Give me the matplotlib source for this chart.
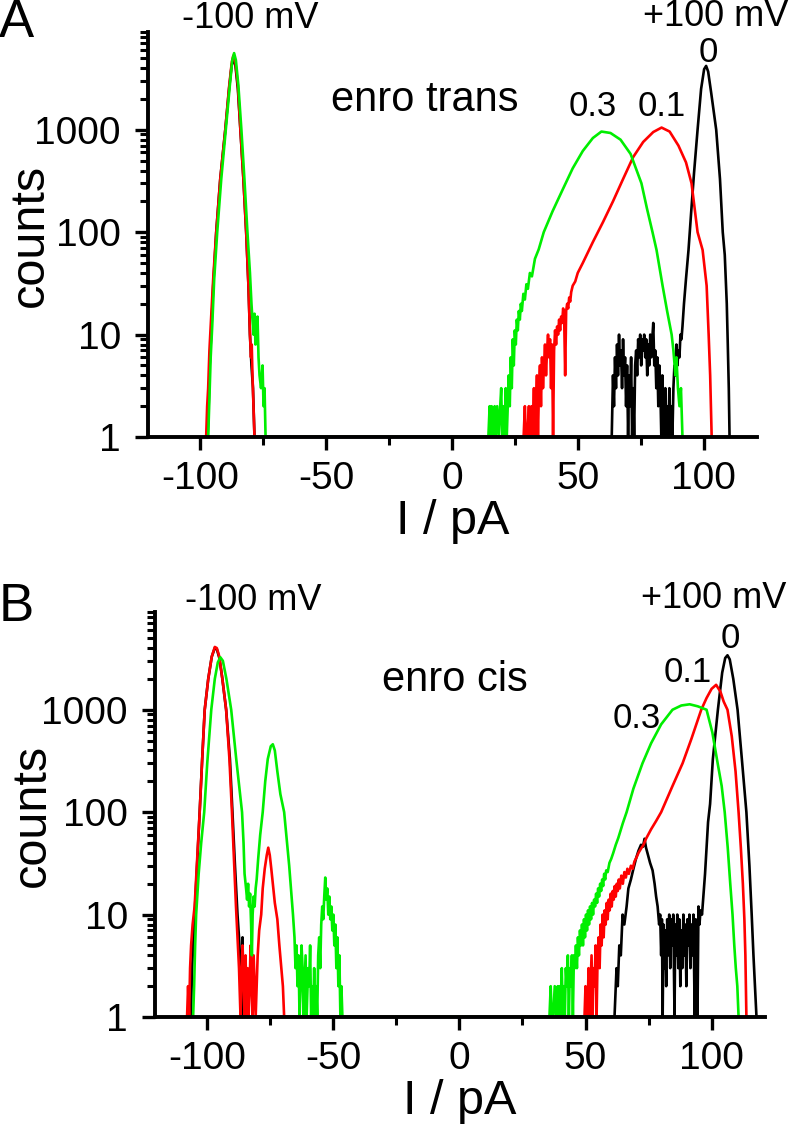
import numpy as np
import matplotlib
matplotlib.use("Agg")
import matplotlib.pyplot as plt
from matplotlib.ticker import MultipleLocator, LogLocator, NullFormatter

plt.rcParams['font.family'] = ['Liberation Sans', 'DejaVu Sans']

# ---- data: (current I in pA, counts) ----
# panel A, enro trans
trans_0 = [(-97.0, 1), (-96.6, 2), (-96.2, 5), (-95.6, 10), (-94.8, 30), (-93.6, 100), (-92.0, 330),
           (-90.0, 1000), (-88.5, 2500), (-87.5, 4200), (-86.8, 4900), (-86.0, 4300), (-85.0, 2500),
           (-84.0, 1000), (-82.8, 330), (-81.7, 100), (-80.8, 30), (-80.2, 10), (-79.6, 5), (-79.0, 3),
           (-78.4, 1),
           (63.5, 1), (64.0, 4), (64.4, 2), (64.8, 6), (65.2, 3), (65.6, 8), (66.0, 4), (66.4, 10), (66.8, 5),
           (67.2, 7), (67.6, 3), (68.0, 9), (68.4, 4), (68.8, 6), (69.2, 2), (69.6, 5), (70.0, 1), (70.4, 4),
           (70.8, 2), (71.2, 6), (71.6, 1), (72.0, 3), (72.4, 1), (72.8, 5), (73.2, 7), (73.6, 4), (74.0, 9),
           (74.4, 6), (74.8, 10), (75.2, 5), (75.6, 9), (76.0, 7), (76.4, 10), (76.8, 6), (77.2, 9), (77.6, 4),
           (78.0, 8), (78.4, 5), (78.8, 10), (79.2, 6), (79.6, 9), (80.0, 13), (80.4, 5), (80.8, 7), (81.2, 3),
           (81.6, 6), (82.0, 2), (82.4, 5), (82.8, 3), (83.2, 1), (83.6, 4), (84.0, 2), (84.4, 1), (84.8, 3),
           (85.2, 1), (85.6, 2), (86.0, 1), (86.4, 3), (86.8, 1), (87.2, 2), (87.6, 1), (88.0, 3), (88.4, 5),
           (88.8, 4), (89.2, 8), (89.6, 5), (90.0, 7), (90.4, 6), (90.8, 10), (91.2, 9), (91.6, 12), (92.2, 20),
           (93.0, 35), (94.0, 67), (95.0, 150), (96.2, 380), (97.6, 1000), (99.0, 2500), (100.2, 3900),
           (101.0, 4200), (101.8, 3700), (103.0, 2300), (105.0, 1000), (106.5, 330), (107.6, 100), (108.4, 60),
           (109.2, 20), (109.6, 8), (110.0, 3), (110.3, 1)]

trans_01 = [(-97.6, 1), (-97.2, 2), (-96.8, 3), (-96.3, 7), (-95.6, 15), (-94.8, 35), (-93.6, 100),
            (-92.0, 330), (-90.0, 1000), (-88.5, 2600), (-87.4, 4600), (-86.8, 5300), (-86.0, 4600),
            (-85.0, 2700), (-84.0, 1000), (-82.8, 330), (-81.7, 100), (-80.8, 30), (-80.2, 10), (-79.8, 6),
            (-79.5, 8), (-79.2, 4), (-78.8, 2), (-78.4, 1),
            (28.5, 1), (29.0, 2), (29.4, 1), (30.0, 1), (30.6, 2), (31.0, 1), (31.6, 2), (32.0, 1), (32.6, 3),
            (33.0, 1), (33.4, 2), (33.8, 4), (34.2, 1), (34.6, 3), (35.0, 5), (35.4, 2), (35.8, 6), (36.2, 3),
            (36.6, 5), (37.0, 8), (37.4, 4), (37.8, 7), (38.2, 10), (38.6, 6), (39.0, 9), (39.4, 3), (39.8, 8),
            (40.2, 1), (40.6, 7), (41.0, 11), (41.4, 8), (41.8, 12), (42.2, 10), (42.6, 14), (43.0, 11),
            (43.4, 15), (43.8, 13), (44.2, 18), (44.6, 15), (45.0, 4), (45.4, 17), (45.8, 20), (46.2, 18),
            (46.6, 23), (47.0, 21), (47.4, 26), (48.0, 30), (49.0, 33), (50.0, 40), (52.0, 50), (56.0, 80),
            (60.0, 125), (64.0, 200), (68.0, 330), (72.0, 540), (76.0, 760), (80.0, 950), (83.3, 1050),
            (86.5, 960), (90.0, 700), (93.0, 480), (95.2, 300), (97.6, 100), (99.6, 67), (101.2, 30),
            (102.0, 10), (102.6, 4), (103.2, 1)]

trans_03 = [(-96.8, 1), (-96.4, 2), (-95.8, 6), (-95.2, 12), (-94.4, 35), (-93.2, 100), (-91.6, 330),
            (-89.8, 1000), (-88.2, 2700), (-87.2, 4800), (-86.5, 5600), (-85.8, 4800), (-84.8, 2700),
            (-83.6, 1000), (-82.4, 330), (-81.2, 100), (-80.2, 40), (-79.6, 20), (-79.2, 14), (-78.8, 10),
            (-78.4, 16), (-78.0, 8), (-77.6, 12), (-77.2, 15), (-76.8, 6), (-76.4, 4), (-75.8, 3), (-75.2, 5),
            (-74.8, 2), (-74.4, 3), (-74.0, 1),
            (14.5, 1), (15.0, 2), (15.4, 1), (15.8, 2), (16.4, 1), (17.0, 2), (17.4, 1), (18.0, 2), (18.6, 1),
            (19.2, 2), (19.6, 3), (20.0, 1), (20.6, 2), (21.0, 1), (21.4, 3), (21.8, 1), (22.2, 2), (22.6, 4),
            (23.0, 2), (23.4, 6), (23.8, 3), (24.2, 9), (24.6, 5), (25.0, 11), (25.4, 8), (25.8, 14), (26.2, 11),
            (26.6, 17), (27.0, 14), (27.4, 20), (27.8, 17), (28.4, 25), (29.0, 22), (29.6, 31), (30.2, 28),
            (31.0, 40), (31.8, 37), (33.0, 55), (34.5, 68), (36.5, 100), (40.0, 160), (44.0, 260), (48.0, 420),
            (52.0, 620), (56.0, 830), (59.4, 960), (63.0, 930), (67.0, 800), (71.0, 580), (75.3, 300),
            (77.5, 170), (79.7, 100), (81.3, 67), (83.7, 30), (85.5, 17), (87.3, 10), (88.0, 7), (88.8, 4),
            (89.2, 6), (89.8, 3), (90.4, 2), (91.0, 3), (91.6, 1)]

# panel B, enro cis
cis_0 = [(-106.5, 1), (-106.0, 3), (-105.2, 8), (-104.2, 25), (-103.0, 100), (-102.0, 330), (-101.0, 1000),
         (-99.6, 2000), (-98.2, 3300), (-97.0, 4000), (-96.2, 3900), (-95.2, 3200), (-94.0, 2000),
         (-92.5, 1000), (-91.0, 330), (-90.0, 100), (-89.0, 30), (-88.0, 10), (-87.4, 6), (-86.8, 3),
         (-86.4, 1), (-86.0, 6), (-85.6, 1), (-85.0, 1),
         (61.5, 1), (62.3, 3), (62.8, 2), (63.4, 5), (64.0, 4), (64.7, 10), (65.4, 8), (66.3, 12), (67.0, 18),
         (68.0, 22), (69.0, 28), (70.0, 35), (71.0, 42), (72.0, 48), (72.8, 46), (73.4, 55), (74.0, 45),
         (74.8, 38), (75.6, 32), (76.6, 27), (77.4, 20), (78.0, 15), (78.6, 12), (79.2, 8), (79.6, 10),
         (80.0, 4), (80.3, 9), (80.6, 1), (80.9, 8), (81.2, 3), (81.6, 7), (82.0, 2), (82.4, 9), (82.8, 4),
         (83.2, 10), (83.6, 3), (84.0, 9), (84.4, 5), (84.8, 10), (85.3, 1), (85.6, 8), (86.0, 4), (86.4, 10),
         (86.8, 3), (87.2, 9), (87.6, 2), (88.0, 7), (88.4, 3), (88.8, 10), (89.2, 4), (89.6, 8), (90.0, 2),
         (90.4, 9), (90.8, 5), (91.2, 10), (91.6, 3), (92.0, 8), (92.4, 4), (92.8, 10), (93.3, 1), (93.7, 9),
         (94.0, 5), (94.4, 1), (94.8, 12), (95.2, 8), (95.6, 11), (96.2, 10), (97.4, 25), (98.6, 80),
         (99.4, 120), (100.5, 330), (102.5, 1000), (104.2, 2300), (105.4, 3200), (106.3, 3400),
         (107.2, 3100), (108.6, 2000), (110.3, 1000), (112.0, 330), (113.8, 100), (115.0, 30), (115.9, 10),
         (116.6, 4), (117.2, 2), (117.8, 1)]

cis_01 = [(-108.0, 1), (-107.6, 2), (-107.2, 1), (-106.8, 3), (-106.4, 5), (-105.8, 8), (-105.0, 12),
          (-104.0, 35), (-103.0, 100), (-102.0, 330), (-101.0, 1000), (-99.6, 2000), (-98.2, 3300),
          (-97.0, 4100), (-96.2, 4000), (-95.2, 3300), (-94.0, 2000), (-92.5, 1000), (-91.2, 330),
          (-90.2, 100), (-89.4, 35), (-88.6, 12), (-88.0, 6), (-87.4, 3), (-86.8, 1), (-86.4, 3), (-86.0, 5),
          (-85.6, 2), (-85.2, 1), (-84.8, 4), (-84.4, 1), (-84.0, 3), (-83.6, 1), (-83.2, 2), (-82.8, 5),
          (-82.4, 2), (-82.0, 1), (-81.6, 4), (-81.2, 2), (-80.8, 1), (-80.4, 2), (-80.0, 4), (-79.4, 7),
          (-78.6, 10), (-78.0, 18), (-77.2, 28), (-76.4, 38), (-75.8, 45), (-75.2, 38), (-74.6, 28),
          (-74.0, 20), (-73.2, 13), (-72.2, 9), (-71.4, 5), (-70.6, 3), (-70.0, 2), (-69.5, 1),
          (49.6, 1), (50.0, 2), (50.4, 1), (50.8, 1), (51.2, 3), (51.6, 1), (52.0, 2), (52.4, 4), (52.8, 1),
          (53.2, 3), (53.6, 2), (54.0, 5), (54.4, 1), (54.8, 4), (55.2, 6), (55.6, 3), (56.0, 8), (56.4, 5),
          (56.8, 10), (57.2, 6), (57.6, 11), (58.0, 8), (58.4, 13), (58.8, 9), (59.2, 14), (59.6, 11),
          (60.0, 16), (60.4, 12), (60.8, 17), (61.2, 14), (61.6, 19), (62.0, 15), (62.4, 20), (62.8, 17),
          (63.2, 22), (63.6, 18), (64.2, 24), (64.8, 20), (65.4, 26), (66.0, 23), (66.6, 28), (67.2, 25),
          (68.0, 30), (68.7, 28), (69.4, 33), (70.2, 36), (71.0, 40), (72.0, 44), (73.0, 48), (74.0, 55),
          (76.0, 68), (78.0, 82), (80.0, 100), (84.5, 180), (88.5, 300), (92.0, 520), (95.9, 1000),
          (98.0, 1300), (100.0, 1600), (101.8, 1750), (103.5, 1500), (104.8, 1200), (106.3, 1000),
          (108.0, 550), (109.5, 250), (110.7, 100), (111.6, 45), (112.4, 20), (113.0, 9), (113.4, 4),
          (113.8, 1)]

cis_03 = [(-105.6, 1), (-105.2, 2), (-104.8, 5), (-104.4, 10), (-103.4, 25), (-102.4, 50), (-101.2, 100),
          (-100.0, 300), (-98.4, 1000), (-97.0, 2000), (-95.8, 2900), (-94.8, 3250), (-93.8, 3000),
          (-92.4, 2000), (-90.5, 1000), (-88.5, 330), (-86.2, 100), (-85.6, 50), (-85.2, 25), (-84.6, 18),
          (-84.2, 14), (-83.8, 20), (-83.4, 12), (-83.0, 16), (-82.6, 8), (-82.3, 4), (-82.0, 10), (-81.6, 15),
          (-81.2, 12), (-80.8, 18), (-80.4, 22), (-79.8, 35), (-79.0, 60), (-78.0, 100), (-77.0, 200),
          (-76.0, 330), (-74.8, 440), (-74.0, 460), (-73.2, 400), (-72.2, 250), (-71.0, 150), (-69.5, 100),
          (-67.5, 30), (-66.0, 10), (-65.4, 6), (-65.0, 3), (-64.6, 5), (-64.2, 2), (-63.8, 4), (-63.4, 1),
          (-63.0, 2), (-62.6, 5), (-62.2, 3), (-61.8, 1), (-61.4, 2), (-61.0, 4), (-60.6, 1), (-60.0, 3),
          (-59.6, 2), (-59.2, 5), (-58.8, 1), (-58.4, 2), (-58.0, 1), (-57.6, 3), (-57.2, 1), (-56.8, 2),
          (-56.4, 1), (-56.0, 4), (-55.6, 6), (-55.2, 3), (-54.8, 8), (-54.4, 12), (-54.0, 9), (-53.6, 15),
          (-53.2, 23), (-52.8, 14), (-52.4, 18), (-52.0, 10), (-51.6, 15), (-51.2, 9), (-50.8, 12), (-50.4, 7),
          (-50.0, 10), (-49.6, 5), (-49.2, 8), (-48.8, 3), (-48.4, 6), (-48.0, 2), (-47.6, 4), (-47.2, 1),
          (-46.8, 2), (-46.4, 1),
          (35.7, 1), (36.2, 2), (36.6, 1), (37.2, 1), (37.8, 2), (38.4, 1), (39.0, 2), (39.4, 1), (39.8, 2),
          (40.2, 1), (40.6, 3), (41.0, 1), (41.4, 2), (41.8, 1), (42.2, 3), (42.6, 2), (43.0, 4), (43.4, 1),
          (43.8, 3), (44.2, 2), (44.6, 4), (45.0, 1), (45.4, 4), (45.8, 3), (46.2, 5), (46.6, 3), (47.0, 6),
          (47.4, 4), (47.8, 7), (48.2, 5), (48.6, 8), (49.0, 5), (49.4, 9), (49.8, 6), (50.2, 10), (50.6, 7),
          (51.0, 11), (51.4, 8), (51.8, 12), (52.2, 9), (52.6, 13), (53.0, 10), (53.4, 14), (53.8, 12),
          (54.2, 16), (54.6, 13), (55.0, 18), (55.4, 15), (55.8, 20), (56.2, 17), (56.6, 22), (57.0, 19),
          (57.4, 25), (57.8, 22), (58.2, 27), (58.8, 26), (59.5, 32), (60.2, 35), (61.0, 40), (62.0, 48),
          (63.0, 56), (64.8, 78), (66.3, 100), (69.0, 170), (72.6, 300), (76.0, 470), (80.0, 720),
          (84.5, 1000), (88.0, 1100), (91.3, 1130), (94.5, 1080), (98.0, 1000), (100.3, 600), (102.4, 300),
          (104.0, 180), (105.2, 100), (106.4, 45), (107.4, 20), (108.3, 10), (109.0, 5), (109.6, 3),
          (110.2, 2), (110.7, 1)]

conc_labels = ['0', '0.1', '0.3']
line_colors = ['black', '#ff0000', '#00ee00']
ytick_vals = [1, 10, 100, 1000]
ytick_labels = ['1', '10', '100', '1000']
xtick_vals = [-100, -50, 0, 50, 100]
xtick_labels = ['-100', '-50', '0', '50', '100']

W, H = 791, 1139
fig = plt.figure(figsize=(W / 100, H / 100), dpi=100)


def px(x, y):
    return x / W, 1 - y / H


def style_axes(ax):
    ax.set_yscale('log')
    ax.set_xlim(-120.7, 121.2)
    ax.set_ylim(1, 9000)
    ax.spines['top'].set_visible(False)
    ax.spines['right'].set_visible(False)
    for s in ('left', 'bottom'):
        ax.spines[s].set_linewidth(2.8)
    ax.set_xticks(xtick_vals)
    ax.set_xticklabels(xtick_labels)
    ax.xaxis.set_minor_locator(MultipleLocator(25))
    ax.set_yticks(ytick_vals)
    ax.set_yticklabels(ytick_labels)
    ax.yaxis.set_minor_locator(LogLocator(base=10, subs=np.arange(2, 10)))
    ax.yaxis.set_minor_formatter(NullFormatter())
    ax.tick_params(which='major', direction='out', length=9.5, width=2.4, labelsize=28, pad=8)
    ax.tick_params(axis='y', which='major', pad=10)
    ax.tick_params(which='minor', direction='out', length=5.5, width=2.2)


panels = [
    ([0.1871, 0.6163, 0.7699, 0.3556], [trans_0, trans_01, trans_03]),
    ([0.1960, 0.1071, 0.7712, 0.3556], [cis_0, cis_01, cis_03]),
]

for rect, curves in panels:
    ax = fig.add_axes(rect)
    for curve, c in zip(curves, line_colors):
        I, n = zip(*curve)
        ax.plot(I, n, color=c, lw=1.9)
    style_axes(ax)

# panel A texts
fig.text(*px(-1, -2), 'A', fontsize=38, ha='left', va='top')
fig.text(*px(250, 18), '-100 mV', fontsize=26, ha='center', va='center')
fig.text(*px(716, 16), '+100 mV', fontsize=26, ha='center', va='center')
fig.text(*px(708, 52), conc_labels[0], fontsize=25, ha='center', va='center')
fig.text(*px(662, 107), conc_labels[1], fontsize=25, ha='center', va='center')
fig.text(*px(593, 107), conc_labels[2], fontsize=25, ha='center', va='center')
fig.text(*px(425, 100), 'enro trans', fontsize=30, ha='center', va='center')
fig.text(*px(30, 235), 'counts', fontsize=35, ha='center', va='center', rotation=90)
fig.text(*px(453, 522), 'I / pA', fontsize=35, ha='center', va='center')

# panel B texts
fig.text(*px(-1, 582), 'B', fontsize=38, ha='left', va='top')
fig.text(*px(253, 600), '-100 mV', fontsize=26, ha='center', va='center')
fig.text(*px(714, 598), '+100 mV', fontsize=26, ha='center', va='center')
fig.text(*px(730, 638), conc_labels[0], fontsize=25, ha='center', va='center')
fig.text(*px(688, 672), conc_labels[1], fontsize=25, ha='center', va='center')
fig.text(*px(637, 718), conc_labels[2], fontsize=25, ha='center', va='center')
fig.text(*px(455, 680), 'enro cis', fontsize=30, ha='center', va='center')
fig.text(*px(32, 815), 'counts', fontsize=35, ha='center', va='center', rotation=90)
fig.text(*px(460, 1102), 'I / pA', fontsize=35, ha='center', va='center')

fig.savefig('out.png', dpi=100)
